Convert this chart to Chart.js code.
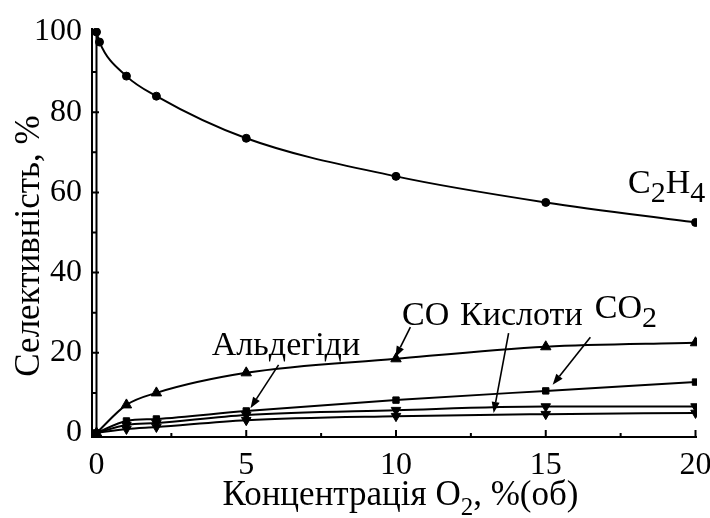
<!DOCTYPE html>
<html>
<head>
<meta charset="utf-8">
<script src="https://cdn.jsdelivr.net/npm/chart.js@4.4.1/dist/chart.umd.min.js"></script>
<style>
  html, body { margin: 0; padding: 0; background: #fff; }
  #wrap { width: 710px; height: 518px; position: relative; }
</style>
</head>
<body>
<div id="wrap"><canvas id="c"></canvas></div>
<script>
// Selectivity of ethane oxidation products vs O2 concentration
const oxygen    = [0, 1, 2, 5, 10, 15, 20];          // %(об)
const c2h4X     = [0, 0.1, 1, 2, 5, 10, 15, 20];
const c2h4      = [100, 97.5, 89, 84, 73.5, 64, 57.5, 52.5];
const coSel     = [0, 7, 10, 15, 18.5, 21.5, 22.5];
const co2Sel    = [0, 3, 3.5, 5.5, 8.2, 10.5, 12.7];
const acidSel   = [0, 2, 2.5, 4.5, 5.7, 6.6, 6.6];
const aldSel    = [0, 1, 1.5, 3.2, 4.2, 4.7, 5.0];
const xTicks    = [0, 5, 10, 15, 20];
const yTicks    = [0, 20, 40, 60, 80, 100];
const xMinor    = [2.5, 7.5, 12.5, 17.5];
const yMinor    = [10, 30, 50, 70, 90];

const SERIF = '"Liberation Serif", "DejaVu Serif", serif';
const INK = '#000';

const pts = (xs, ys) => xs.map((x, i) => ({ x, y: ys[i] }));

// Curve labels and pointer arrows, placed in data units
const notes = [
  { parts: [['C'], ['2', 1], ['H'], ['4', 1]], x: 17.75, y: 59.9 },
  { parts: [['Альдегіди']], x: 3.85, y: 19.45 },
  { parts: [['CO']], x: 10.2, y: 26.9 },
  { parts: [['Кислоти']], x: 12.14, y: 26.9 },
  { parts: [['CO'], ['2', 1]], x: 16.64, y: 28.7 }
];
const arrows = [
  { from: [6.08, 17.0], to: [5.14, 6.2] },
  { from: [10.48, 26.4], to: [9.98, 18.9] },
  { from: [13.76, 24.9], to: [13.26, 5.0] },
  { from: [16.49, 23.9], to: [15.23, 12.0] }
];

function drawRich(ctx, parts, x, y, size, subSize, subDrop) {
  let cx = x;
  for (const [t, sub] of parts) {
    ctx.font = (sub ? subSize : size) + 'px ' + SERIF;
    ctx.fillText(t, cx, sub ? y + subDrop : y);
    cx += ctx.measureText(t).width;
  }
}

const framePlugin = {
  id: 'frameAndNotes',
  afterDatasetsDraw(chart) {
    const { ctx, chartArea: a, scales: { x, y } } = chart;
    ctx.save();
    ctx.strokeStyle = INK;
    ctx.fillStyle = INK;
    ctx.lineWidth = 2;
    ctx.lineCap = 'butt';
    // axes
    ctx.beginPath();
    ctx.moveTo(a.left, a.top);
    ctx.lineTo(a.left, a.bottom);
    ctx.lineTo(a.right, a.bottom);
    ctx.stroke();
    // inward ticks
    ctx.beginPath();
    xTicks.forEach(v => { const px = x.getPixelForValue(v); ctx.moveTo(px, a.bottom); ctx.lineTo(px, a.bottom - 7); });
    xMinor.forEach(v => { const px = x.getPixelForValue(v); ctx.moveTo(px, a.bottom); ctx.lineTo(px, a.bottom - 4); });
    yTicks.forEach(v => { const py = y.getPixelForValue(v); ctx.moveTo(a.left, py); ctx.lineTo(a.left + 7, py); });
    yMinor.forEach(v => { const py = y.getPixelForValue(v); ctx.moveTo(a.left, py); ctx.lineTo(a.left + 4, py); });
    ctx.stroke();

    // arrows
    ctx.lineWidth = 1.6;
    arrows.forEach(ar => {
      const x0 = x.getPixelForValue(ar.from[0]), y0 = y.getPixelForValue(ar.from[1]);
      const x1 = x.getPixelForValue(ar.to[0]), y1 = y.getPixelForValue(ar.to[1]);
      const ang = Math.atan2(y1 - y0, x1 - x0);
      const L = 11, W = 4;
      const bx = x1 - L * Math.cos(ang), by = y1 - L * Math.sin(ang);
      ctx.beginPath();
      ctx.moveTo(x0, y0);
      ctx.lineTo(bx, by);
      ctx.stroke();
      ctx.beginPath();
      ctx.moveTo(x1, y1);
      ctx.lineTo(bx + W * Math.sin(ang), by - W * Math.cos(ang));
      ctx.lineTo(bx - W * Math.sin(ang), by + W * Math.cos(ang));
      ctx.closePath();
      ctx.fill();
    });

    // curve labels
    ctx.textAlign = 'left';
    ctx.textBaseline = 'alphabetic';
    notes.forEach(n => {
      drawRich(ctx, n.parts, x.getPixelForValue(n.x), y.getPixelForValue(n.y), 34, 30, 9);
    });

    // x-axis title
    const xParts = [['Концентрація O'], ['2', 1], [', %(об)']];
    let w = 0;
    xParts.forEach(([t, sub]) => { ctx.font = (sub ? 25 : 35) + 'px ' + SERIF; w += ctx.measureText(t).width; });
    const cx = (a.left + a.right) / 2 + 6;
    drawRich(ctx, xParts, cx - w / 2, 505, 35, 25, 10);

    // y-axis title
    ctx.save();
    ctx.translate(39, 246);
    ctx.rotate(-Math.PI / 2);
    ctx.textAlign = 'center';
    ctx.font = '35px ' + SERIF;
    ctx.fillText('Селективність, %', 0, 0);
    ctx.restore();
    ctx.restore();
  }
};

const line = (label, data, style, radius, extra) => Object.assign({
  label, data,
  borderColor: INK, backgroundColor: INK,
  borderWidth: 2,
  pointStyle: style, pointRadius: radius, pointHoverRadius: radius,
  pointBorderWidth: 1,
  cubicInterpolationMode: 'monotone',
  fill: false
}, extra || {});

new Chart(document.getElementById('c'), {
  type: 'line',
  data: {
    datasets: [
      line('C2H4 start', [{ x: 0, y: 0 }, { x: 0, y: c2h4[0] }], 'circle', 0, { cubicInterpolationMode: 'default', tension: 0 }),
      line('C2H4', pts(c2h4X, c2h4), 'circle', 4),
      line('CO', pts(oxygen, coSel), 'triangle', 6),
      line('CO2', pts(oxygen, co2Sel), 'rect', 4.5),
      line('Кислоти', pts(oxygen, acidSel), 'triangle', 5.5, { pointRotation: 180 }),
      line('Альдегіди', pts(oxygen, aldSel), 'triangle', 5.5, { pointRotation: 180 })
    ]
  },
  options: {
    responsive: true,
    maintainAspectRatio: false,
    animation: false,
    events: [],
    layout: { padding: { top: 28, right: 13, left: 0, bottom: 0 } },
    plugins: { legend: { display: false }, tooltip: { enabled: false } },
    scales: {
      x: {
        type: 'linear', min: -0.15, max: 20.05,
        grid: { display: false, drawTicks: false },
        border: { display: false },
        afterBuildTicks: s => { s.ticks = xTicks.map(v => ({ value: v })); },
        ticks: { color: INK, padding: 9, maxRotation: 0, font: { family: SERIF, size: 32 } },
        afterFit: s => { s.height = 81; s.paddingLeft = 0; s.paddingRight = 0; }
      },
      y: {
        type: 'linear', min: -1, max: 101,
        grid: { display: false, drawTicks: false },
        border: { display: false },
        afterBuildTicks: s => { s.ticks = yTicks.map(v => ({ value: v })); },
        ticks: { color: INK, padding: 10, font: { family: SERIF, size: 32 } },
        afterFit: s => { s.width = 92; s.paddingTop = 0; s.paddingBottom = 0; }
      }
    }
  },
  plugins: [framePlugin]
});
</script>
</body>
</html>
